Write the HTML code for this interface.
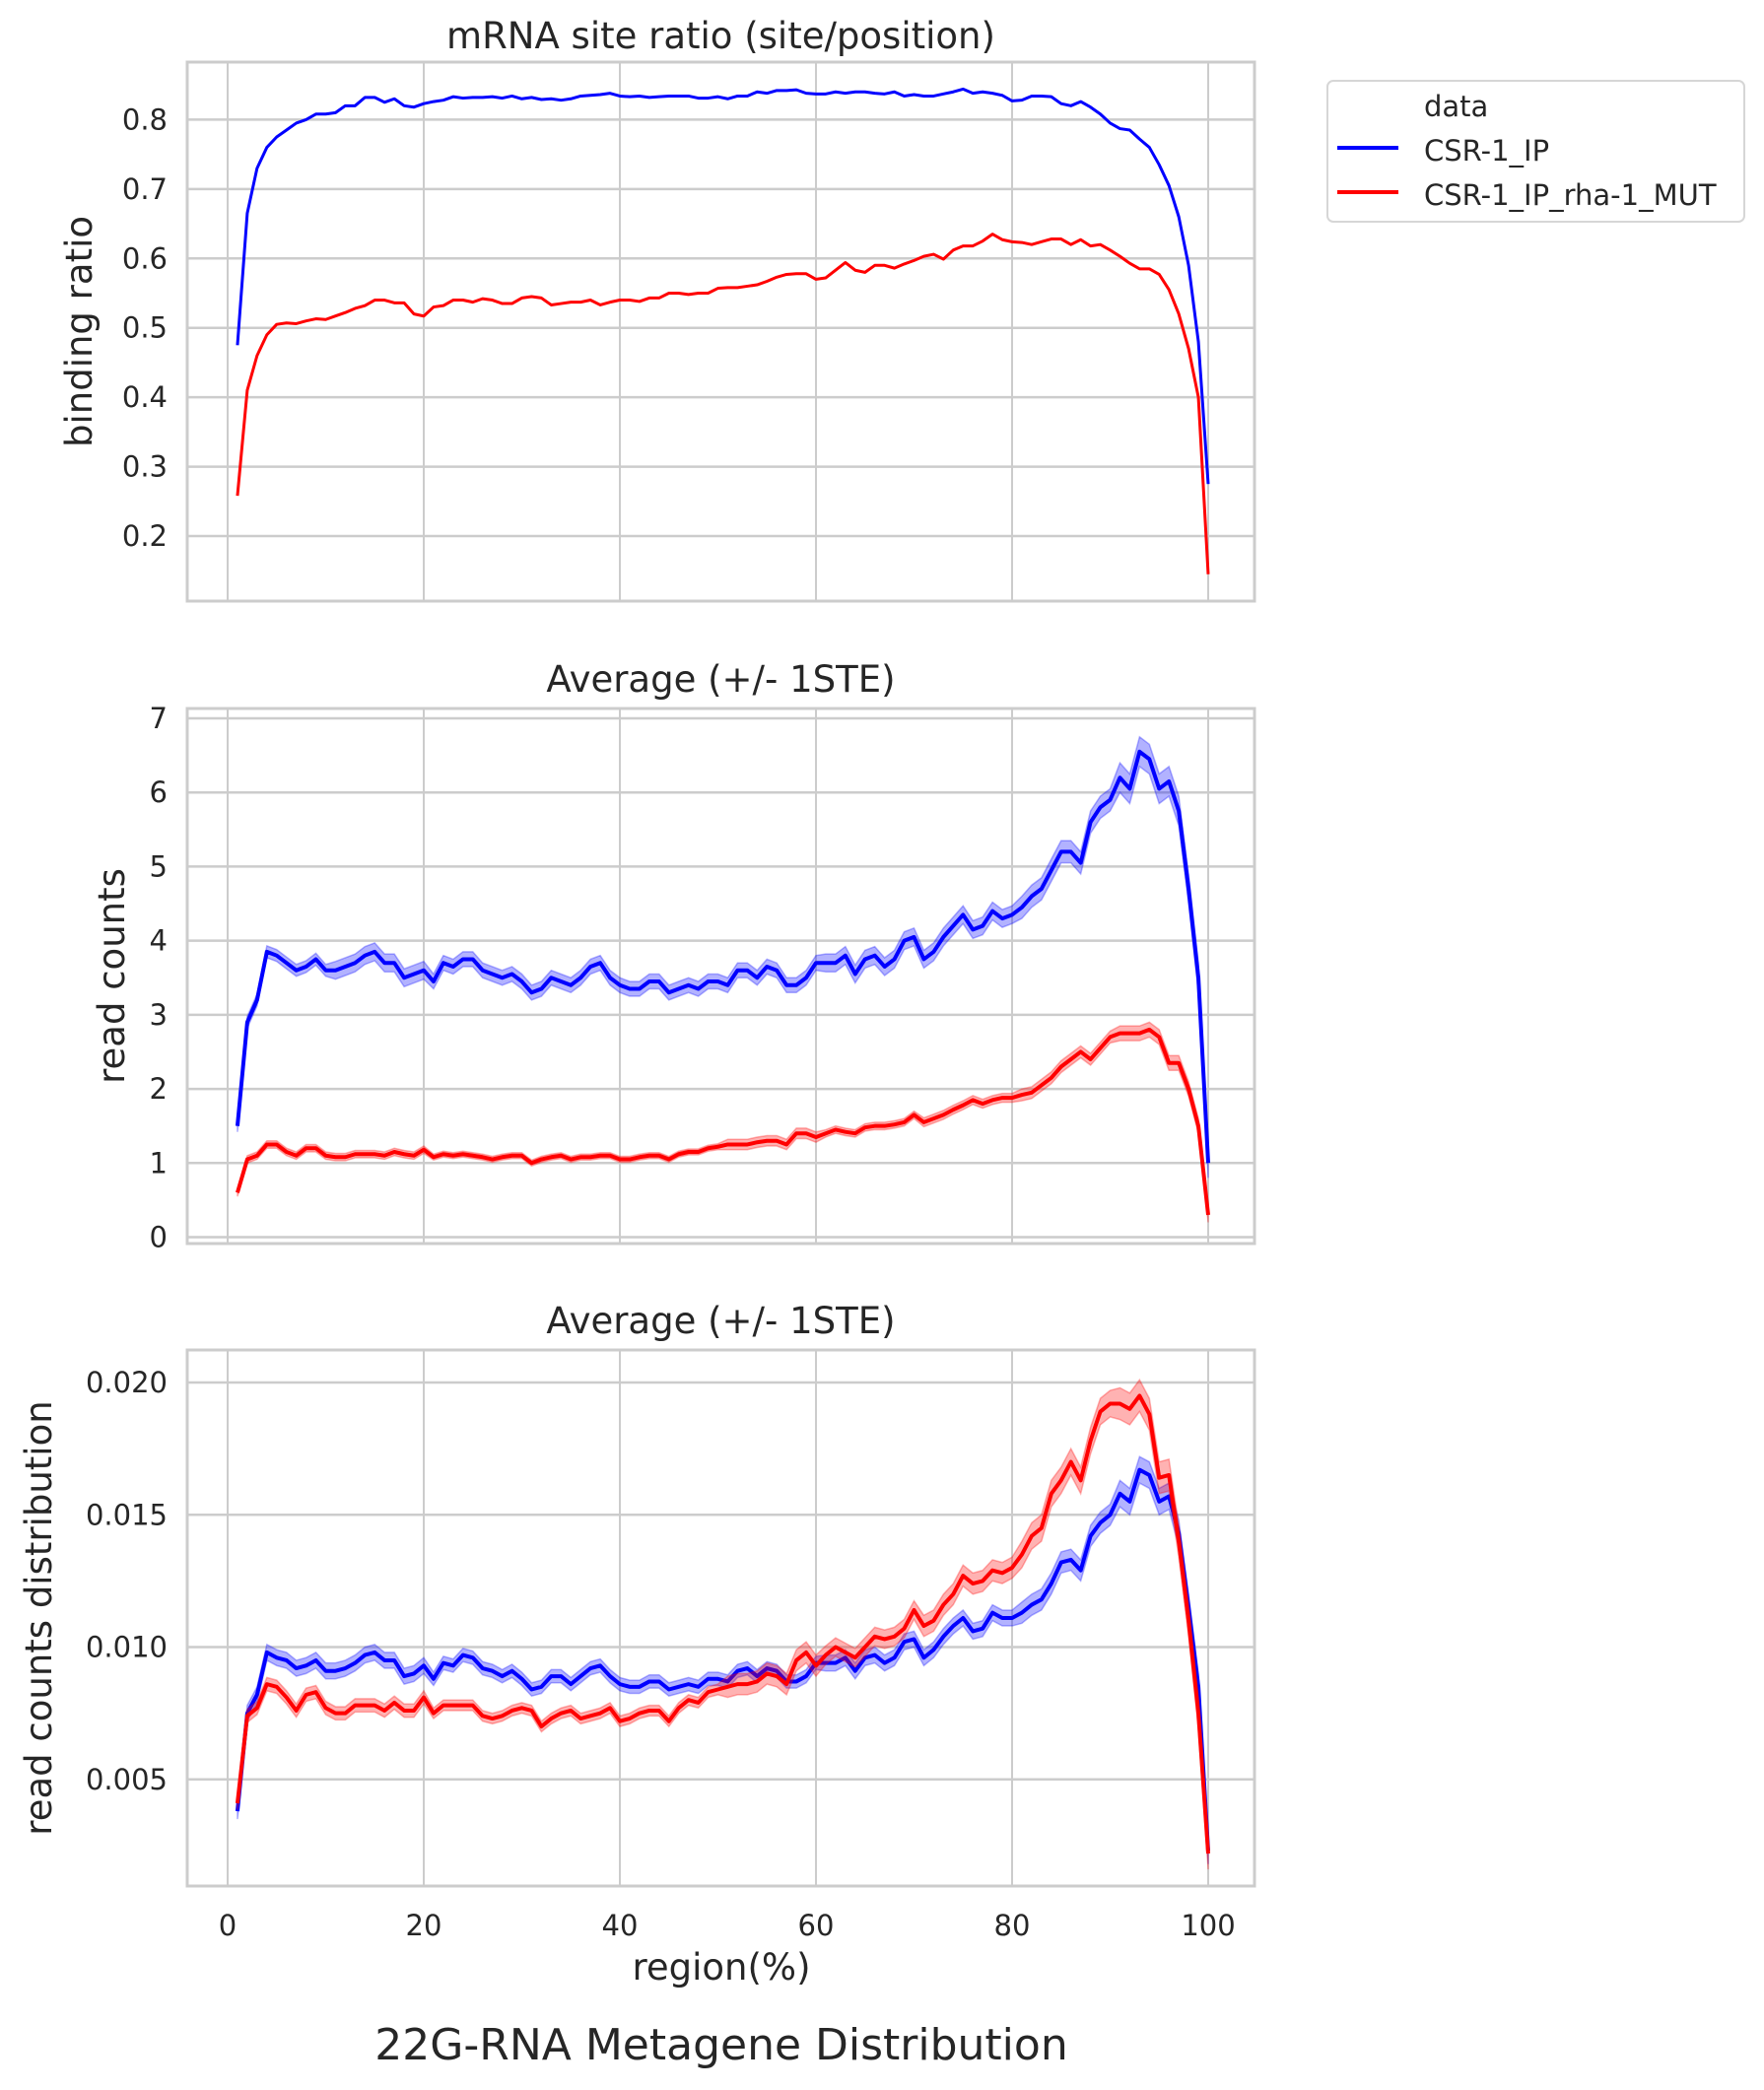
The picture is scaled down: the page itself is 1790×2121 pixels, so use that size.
<!DOCTYPE html>
<html><head><meta charset="utf-8">
<style>
html,body{margin:0;padding:0;background:#fff;}
svg{display:block;font-family:"DejaVu Sans","Liberation Sans",sans-serif;}
</style></head>
<body>
<svg id="chart" width="1790" height="2121" viewBox="0 0 1790 2121" xmlns="http://www.w3.org/2000/svg">
<rect width="1790" height="2121" fill="#fff"/>
<g id="layer"></g>
<g>
 <rect x="1347" y="82" width="423" height="143" rx="6" fill="#fff" stroke="#d6d6d6" stroke-width="2"/>
 <text x="1445" y="118" font-size="29" fill="#262626">data</text>
 <line x1="1357" y1="150" x2="1419" y2="150" stroke="#0000ff" stroke-width="4"/>
 <text x="1445" y="163" font-size="29" fill="#262626">CSR-1_IP</text>
 <line x1="1357" y1="195" x2="1419" y2="195" stroke="#ff0000" stroke-width="4"/>
 <text x="1445" y="208" font-size="29" fill="#262626">CSR-1_IP_rha-1_MUT</text>
</g>
<text x="732" y="2090" font-size="44" fill="#262626" text-anchor="middle">22G-RNA Metagene Distribution</text>
<text x="732" y="2009" font-size="37" fill="#262626" text-anchor="middle">region(%)</text>
</svg>
<script>
const regions = Array.from({length:100},(_,i)=>i+1);
const xTicks = [0,20,40,60,80,100];
const ratioBlue = [0.475,0.665,0.73,0.76,0.775,0.785,0.795,0.8,0.808,0.808,0.81,0.82,0.82,0.832,0.832,0.825,0.83,0.82,0.818,0.823,0.826,0.828,0.833,0.831,0.832,0.832,0.833,0.831,0.834,0.83,0.832,0.829,0.83,0.828,0.83,0.834,0.835,0.836,0.838,0.834,0.833,0.834,0.832,0.833,0.834,0.834,0.834,0.831,0.831,0.833,0.83,0.834,0.834,0.84,0.838,0.842,0.842,0.843,0.838,0.837,0.837,0.84,0.838,0.84,0.84,0.838,0.837,0.84,0.834,0.836,0.834,0.834,0.837,0.84,0.844,0.838,0.84,0.838,0.835,0.827,0.828,0.834,0.834,0.833,0.823,0.82,0.826,0.818,0.808,0.795,0.787,0.785,0.772,0.76,0.735,0.705,0.66,0.59,0.48,0.275];
const ratioRed = [0.258,0.41,0.46,0.49,0.505,0.507,0.506,0.51,0.513,0.512,0.517,0.522,0.528,0.532,0.54,0.54,0.536,0.536,0.52,0.517,0.53,0.532,0.54,0.54,0.537,0.542,0.54,0.535,0.535,0.543,0.545,0.543,0.533,0.535,0.537,0.537,0.54,0.533,0.537,0.54,0.54,0.538,0.543,0.543,0.55,0.55,0.548,0.55,0.55,0.557,0.558,0.558,0.56,0.562,0.567,0.573,0.577,0.578,0.578,0.57,0.572,0.583,0.594,0.583,0.58,0.59,0.59,0.586,0.592,0.597,0.603,0.606,0.599,0.612,0.618,0.618,0.625,0.635,0.627,0.624,0.623,0.62,0.624,0.628,0.628,0.62,0.627,0.618,0.62,0.612,0.603,0.593,0.585,0.585,0.577,0.555,0.52,0.47,0.4,0.145];
const countsBlue = [1.5,2.9,3.2,3.85,3.8,3.7,3.6,3.65,3.75,3.6,3.6,3.65,3.7,3.8,3.85,3.7,3.7,3.5,3.55,3.6,3.45,3.7,3.65,3.75,3.75,3.6,3.55,3.5,3.55,3.45,3.3,3.35,3.5,3.45,3.4,3.5,3.65,3.7,3.5,3.4,3.35,3.35,3.45,3.45,3.3,3.35,3.4,3.35,3.45,3.45,3.4,3.6,3.6,3.5,3.65,3.6,3.4,3.4,3.5,3.7,3.7,3.7,3.8,3.55,3.75,3.8,3.65,3.75,4.0,4.05,3.75,3.85,4.05,4.2,4.35,4.15,4.2,4.4,4.3,4.35,4.45,4.6,4.7,4.95,5.2,5.2,5.05,5.6,5.8,5.9,6.2,6.05,6.55,6.45,6.05,6.15,5.75,4.7,3.5,1.0];
const countsRed = [0.6,1.05,1.1,1.25,1.25,1.15,1.1,1.2,1.2,1.1,1.08,1.08,1.12,1.12,1.12,1.1,1.15,1.12,1.1,1.18,1.08,1.12,1.1,1.12,1.1,1.08,1.05,1.08,1.1,1.1,1.0,1.05,1.08,1.1,1.05,1.08,1.08,1.1,1.1,1.05,1.05,1.08,1.1,1.1,1.05,1.12,1.15,1.15,1.2,1.22,1.25,1.25,1.25,1.28,1.3,1.3,1.25,1.4,1.4,1.35,1.4,1.45,1.42,1.4,1.48,1.5,1.5,1.52,1.55,1.65,1.55,1.6,1.65,1.72,1.78,1.85,1.8,1.85,1.88,1.88,1.92,1.95,2.05,2.15,2.3,2.4,2.5,2.4,2.55,2.7,2.75,2.75,2.75,2.8,2.7,2.35,2.35,2.0,1.5,0.3];
const distBlue = [3.8,7.5,8.2,9.8,9.6,9.5,9.2,9.3,9.5,9.1,9.1,9.2,9.4,9.7,9.8,9.5,9.5,8.9,9.0,9.3,8.8,9.4,9.3,9.7,9.6,9.2,9.1,8.9,9.1,8.8,8.4,8.5,8.9,8.9,8.6,8.9,9.2,9.3,8.9,8.6,8.5,8.5,8.7,8.7,8.4,8.5,8.6,8.5,8.8,8.8,8.7,9.1,9.2,8.9,9.2,9.1,8.7,8.7,8.9,9.4,9.4,9.4,9.6,9.1,9.6,9.7,9.4,9.6,10.2,10.3,9.6,9.9,10.4,10.8,11.1,10.6,10.7,11.3,11.1,11.1,11.3,11.6,11.8,12.4,13.2,13.3,12.9,14.2,14.7,15.0,15.8,15.5,16.7,16.5,15.5,15.7,14.3,11.5,8.5,2.3];
const distRed = [4.1,7.4,7.7,8.6,8.5,8.1,7.6,8.2,8.3,7.7,7.5,7.5,7.8,7.8,7.8,7.6,7.9,7.6,7.6,8.1,7.5,7.8,7.8,7.8,7.8,7.4,7.3,7.4,7.6,7.7,7.6,7.0,7.3,7.5,7.6,7.3,7.4,7.5,7.7,7.2,7.3,7.5,7.6,7.6,7.2,7.7,8.0,7.9,8.3,8.4,8.5,8.6,8.6,8.7,9.0,8.9,8.6,9.5,9.8,9.3,9.7,10.0,9.8,9.6,10.0,10.4,10.3,10.4,10.7,11.4,10.8,11.0,11.6,12.0,12.7,12.4,12.5,12.9,12.8,13.0,13.5,14.2,14.5,15.8,16.3,17.0,16.3,17.8,18.9,19.2,19.2,19.0,19.5,18.8,16.4,16.5,14.0,11.0,7.5,2.2];
const steCountsBlue = [0.08,0.12,0.1,0.1,0.1,0.1,0.12,0.12,0.15,0.2];
const steCountsRed = [0.05,0.05,0.04,0.04,0.04,0.07,0.05,0.06,0.08,0.1];
const steDistBlue = [0.3,0.3,0.25,0.25,0.25,0.25,0.3,0.3,0.4,0.5];
const steDistRed = [0.25,0.25,0.2,0.2,0.2,0.4,0.35,0.4,0.5,0.6];

const NS='http://www.w3.org/2000/svg';
const layer=document.getElementById('layer');
const X0=231,X100=1226,AX_L=190,AX_R=1273;
const xs=v=>X0+(v/100)*(X100-X0);
function mk(tag,attrs,parent){const e=document.createElementNS(NS,tag);for(const k in attrs)e.setAttribute(k,attrs[k]);(parent||layer).appendChild(e);return e;}

function panel(cfg){
  const g=mk('g',{});
  
  
  const ys=v=>cfg.pA+(v-cfg.vA)*(cfg.pB-cfg.pA)/(cfg.vB-cfg.vA);
  xTicks.forEach(t=>{const l=mk('line',{x1:xs(t),x2:xs(t),y1:cfg.top,y2:cfg.bottom,stroke:'#cccccc','stroke-width':2},g);
    
    });
  cfg.yTicks.forEach((t,i)=>{const y=ys(t);
    const l=mk('line',{x1:AX_L,x2:AX_R,y1:y,y2:y,stroke:'#cccccc','stroke-width':2.5},g);
    
    
    const tx=mk('text',{x:AX_L-20,y:y+10,'font-size':29,fill:'#262626','text-anchor':'end'},g);
    tx.textContent=cfg.yLabels[i];
    
    });
  const fr=mk('rect',{x:AX_L,y:cfg.top,width:AX_R-AX_L,height:cfg.bottom-cfg.top,fill:'none',stroke:'#cccccc','stroke-width':3},g);
  
  
  cfg.series.forEach(s=>{
    if(s.ste){
      let up='',dn='';
      regions.forEach((r,i)=>{const e=s.ste[Math.min(9,Math.floor(i/10))];up+=(i?'L':'M')+xs(r)+','+ys(s.vals[i]+e);});
      for(let i=regions.length-1;i>=0;i--){const e=s.ste[Math.min(9,Math.floor(i/10))];dn+='L'+xs(regions[i])+','+ys(s.vals[i]-e);}
      const b=mk('path',{d:up+dn+'Z',fill:s.color,'fill-opacity':0.3,stroke:s.color,'stroke-opacity':0.3,'stroke-width':1.5},g);
      
      
    }
    const d=regions.map((r,i)=>(i?'L':'M')+xs(r)+','+ys(s.vals[i])).join('');
    const p=mk('path',{d:d,fill:'none',stroke:s.color,'stroke-width':cfg.lw,'stroke-linejoin':'round'},g);
    
    
  });
  const t=mk('text',{x:(AX_L+AX_R)/2,y:cfg.titleY,'font-size':37,fill:'#262626','text-anchor':'middle'},g);
  t.textContent=cfg.title;
  
  
  const yl=mk('text',{x:0,y:0,'font-size':37,fill:'#262626','text-anchor':'middle',transform:`translate(${cfg.ylx},${(cfg.top+cfg.bottom)/2}) rotate(-90)`},g);
  yl.textContent=cfg.ylabel;
  
  
  if(cfg.xlabels){xTicks.forEach(tk=>{const tx=mk('text',{x:xs(tk),y:cfg.bottom+50,'font-size':29,fill:'#262626','text-anchor':'middle'},g);
    tx.textContent=String(tk);
    
    });}
}
panel({name:'binding-ratio-panel',top:63,bottom:610,vA:0.2,pA:544,vB:0.8,pB:121.4,lw:3,
  yTicks:[0.2,0.3,0.4,0.5,0.6,0.7,0.8],yLabels:['0.2','0.3','0.4','0.5','0.6','0.7','0.8'],
  title:'mRNA site ratio (site/position)',titleY:49,ylabel:'binding ratio',ylx:93,
  series:[{name:'csr1-ip',color:'#0000ff',vals:ratioBlue},{name:'csr1-ip-rha1-mut',color:'#ff0000',vals:ratioRed}]});
panel({name:'read-counts-panel',top:719,bottom:1262,vA:0,pA:1255.5,vB:7,pB:729,lw:4,
  yTicks:[0,1,2,3,4,5,6,7],yLabels:['0','1','2','3','4','5','6','7'],
  title:'Average (+/- 1STE)',titleY:702,ylabel:'read counts',ylx:126,
  series:[{name:'csr1-ip',color:'#0000ff',vals:countsBlue,ste:steCountsBlue},{name:'csr1-ip-rha1-mut',color:'#ff0000',vals:countsRed,ste:steCountsRed}]});
panel({name:'read-distribution-panel',top:1370,bottom:1914,vA:5,pA:1805.8,vB:20,pB:1403,lw:4,
  yTicks:[5,10,15,20],yLabels:['0.005','0.010','0.015','0.020'],
  title:'Average (+/- 1STE)',titleY:1353,ylabel:'read counts distribution',ylx:52,xlabels:true,
  series:[{name:'csr1-ip',color:'#0000ff',vals:distBlue,ste:steDistBlue},{name:'csr1-ip-rha1-mut',color:'#ff0000',vals:distRed,ste:steDistRed}]});
</script>
</body></html>
